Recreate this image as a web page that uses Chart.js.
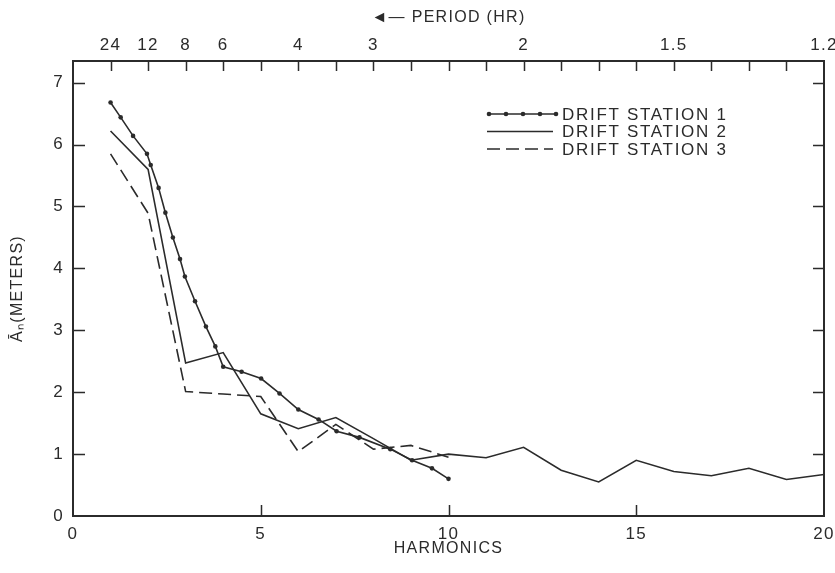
<!DOCTYPE html>
<html><head><meta charset="utf-8">
<script src="https://cdn.jsdelivr.net/npm/chart.js@4.4.0/dist/chart.umd.min.js"></script>
<style>html,body{margin:0;padding:0;background:#fff}canvas{display:block}</style>
</head><body>
<canvas id="c" width="835" height="573"></canvas>
<script>
// ---- data ----
const harmonics = [1,2,3,4,5,6,7,8,9,10,11,12,13,14,15,16,17,18,19,20];
const station1X = [1,1.27,1.6,1.97,2.07,2.28,2.46,2.66,2.85,2.98,3.25,3.54,3.79,4.0,4.49,5.01,5.5,6.0,6.54,7.02,7.63,8.45,9.03,9.56,10];
const station1Y = [6.68,6.44,6.14,5.85,5.67,5.30,4.90,4.50,4.15,3.87,3.47,3.06,2.74,2.41,2.33,2.22,1.98,1.72,1.56,1.37,1.27,1.08,0.90,0.77,0.60];
const station2Y = [6.22,5.60,2.47,2.64,1.65,1.41,1.59,1.25,0.90,1.00,0.94,1.11,0.74,0.55,0.90,0.72,0.65,0.77,0.59,0.67];
const station3Y = [5.85,4.89,2.01,1.97,1.93,1.04,1.48,1.08,1.14,0.95];
const yTicks = [0,1,2,3,4,5,6,7];
const xTicks = [0,5,10,15,20];
const periodHarmonics = [1,2,3,4,6,8,12,16,20];
const periodLabels = ['24','12','8','6','4','3','2','1.5','1.2'];
const seriesNames = ['DRIFT STATION 1','DRIFT STATION 2','DRIFT STATION 3'];

const INK = '#2b2b2b';
const FONT = 'Liberation Sans, Arial, sans-serif';
const tickFont = {family: FONT, size: 17};

const frameAndLegend = {
  id: 'frameAndLegend',
  beforeDraw(chart) { chart.ctx.letterSpacing = '1.3px'; },
  afterDraw(chart) {
    const {ctx, chartArea: a, scales} = chart;
    ctx.save();
    ctx.letterSpacing = '0px';
    ctx.strokeStyle = INK;
    ctx.lineWidth = 2;
    ctx.strokeRect(a.left, a.top, a.right - a.left, a.bottom - a.top);
    ctx.lineWidth = 1.5;
    ctx.beginPath();
    // left & right inward ticks
    yTicks.forEach(v => {
      if (v === 0) return;
      const y = Math.round(scales.y.getPixelForValue(v)) + 0.5;
      ctx.moveTo(a.left, y); ctx.lineTo(a.left + 12, y);
      ctx.moveTo(a.right, y); ctx.lineTo(a.right - 11, y);
    });
    // bottom inward ticks
    xTicks.forEach(v => {
      if (v === 0 || v === 20) return;
      const x = Math.round(scales.x.getPixelForValue(v)) + 0.5;
      ctx.moveTo(x, a.bottom); ctx.lineTo(x, a.bottom - 11);
    });
    // top ticks at every harmonic
    harmonics.forEach(h => {
      if (h === 20) return;
      const x = Math.round(scales.x2.getPixelForValue(h)) + 0.5;
      ctx.moveTo(x, a.top); ctx.lineTo(x, a.top + 10);
    });
    ctx.stroke();

    // legend
    const rows = [114, 131.5, 149];
    const x0 = 487, x1 = 553;
    chart.data.datasets.forEach((ds, i) => {
      const y = rows[i];
      ctx.save();
      ctx.strokeStyle = ds.borderColor;
      ctx.lineWidth = ds.borderWidth;
      ctx.setLineDash(ds.borderDash || []);
      ctx.beginPath();
      ctx.moveTo(x0, y); ctx.lineTo(i === 0 ? 557 : x1, y);
      ctx.stroke();
      ctx.restore();
      if (ds.pointRadius > 0) {
        ctx.fillStyle = ds.borderColor;
        [489, 506, 523, 540, 556].forEach(px => {
          ctx.beginPath(); ctx.arc(px, y, ds.pointRadius, 0, Math.PI * 2); ctx.fill();
        });
      }
      ctx.fillStyle = INK;
      ctx.font = '17px ' + FONT;
      ctx.letterSpacing = '1.7px';
      ctx.textBaseline = 'middle';
      ctx.textAlign = 'left';
      ctx.fillText(seriesNames[i], 562, y + 1);
      ctx.letterSpacing = '0px';
    });
    ctx.restore();
  }
};

new Chart(document.getElementById('c'), {
  type: 'line',
  data: {
    datasets: [
      {
        label: seriesNames[0],
        data: station1X.map((x, i) => ({x, y: station1Y[i]})),
        borderColor: INK, backgroundColor: INK, borderWidth: 1.6,
        pointRadius: 2.3, pointBackgroundColor: INK, pointBorderWidth: 0, tension: 0
      },
      {
        label: seriesNames[1],
        data: harmonics.map((x, i) => ({x, y: station2Y[i]})),
        borderColor: INK, borderWidth: 1.6, pointRadius: 0, tension: 0
      },
      {
        label: seriesNames[2],
        data: harmonics.slice(0, station3Y.length).map((x, i) => ({x, y: station3Y[i]})),
        borderColor: INK, borderWidth: 1.6, borderDash: [13, 6], pointRadius: 0, tension: 0
      }
    ]
  },
  options: {
    responsive: false,
    animation: false,
    devicePixelRatio: 1,
    layout: {padding: {left: 0, right: 11, top: 0, bottom: 0}},
    plugins: {legend: {display: false}, tooltip: {enabled: false}},
    scales: {
      x: {
        type: 'linear', position: 'bottom', min: 0, max: 20,
        afterBuildTicks(s) { s.ticks = xTicks.map(v => ({value: v})); },
        afterFit(s) { s.height = 57; s.paddingLeft = 0; s.paddingRight = 0; },
        ticks: {font: tickFont, color: INK, padding: 8, maxRotation: 0, autoSkip: false},
        grid: {display: false, drawTicks: false},
        border: {display: false},
        title: {display: true, text: 'HARMONICS', color: INK, font: {family: FONT, size: 16}, padding: {top: 0, bottom: 15}}
      },
      x2: {
        type: 'linear', position: 'top', min: 0, max: 20,
        afterBuildTicks(s) { s.ticks = periodHarmonics.map(v => ({value: v})); },
        afterFit(s) { s.height = 61; s.paddingLeft = 0; s.paddingRight = 0; },
        ticks: {
          font: tickFont, color: INK, padding: 5, maxRotation: 0, autoSkip: false,
          callback: (v) => { const k = periodHarmonics.indexOf(v); return k >= 0 ? periodLabels[k] : ''; }
        },
        grid: {display: false, drawTicks: false},
        border: {display: false},
        title: {display: true, text: '◄— PERIOD (HR)', color: INK, font: {family: FONT, size: 16}, padding: {top: 8, bottom: 0}}
      },
      y: {
        type: 'linear', position: 'left', min: 0, max: 7.35,
        afterBuildTicks(s) { s.ticks = yTicks.map(v => ({value: v})); },
        afterFit(s) { s.width = 73; },
        ticks: {font: tickFont, color: INK, padding: 9},
        grid: {display: false, drawTicks: false},
        border: {display: false},
        title: {display: true, text: 'Āₙ(METERS)', color: INK, font: {family: FONT, size: 16}, padding: {top: 8, bottom: 0}}
      }
    }
  },
  plugins: [frameAndLegend]
});
</script>
</body></html>
